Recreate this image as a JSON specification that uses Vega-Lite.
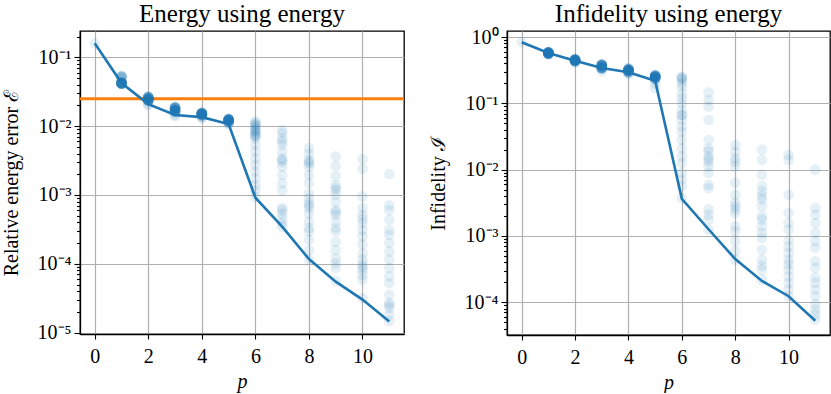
{
  "$schema": "https://vega.github.io/schema/vega-lite/v6.json",
  "padding": {"left": 0, "top": 0, "right": 0, "bottom": 0},
  "background": "white",
  "config": {
    "font": "Liberation Serif",
    "style": {"guide-label": {"font": "Liberation Serif"}, "guide-title": {"font": "Liberation Serif"}, "group-title": {"font": "Liberation Serif"}},
    "view": {"stroke": "black", "strokeWidth": 1.3},
    "axis": {
      "labelFont": "Liberation Serif", "titleFont": "Liberation Serif",
      "labelFontSize": 20, "titleFontSize": 20, "titleFontWeight": "normal",
      "labelColor": "black", "titleColor": "black", "tickColor": "black", "domainColor": "black",
      "domainWidth": 1.3, "tickWidth": 1.1,
      "gridColor": "#b0b0b0", "gridWidth": 1.2, "labelFlush": false, "labelOverlap": false
    },
    "title": {"font": "Liberation Serif", "fontSize": 25, "fontWeight": "normal", "color": "black", "frame": "group", "anchor": "middle"}
  },
  "spacing": 20,
  "datasets": {
    "E": [
      {"p":0,"v":0.16},
      {"p":1,"v":0.0537},{"p":1,"v":0.0525},{"p":1,"v":0.0525},{"p":1,"v":0.0513},{"p":1,"v":0.0501},{"p":1,"v":0.0437},{"p":1,"v":0.0427},{"p":1,"v":0.0427},{"p":1,"v":0.0427},{"p":1,"v":0.0422},{"p":1,"v":0.0422},{"p":1,"v":0.0417},{"p":1,"v":0.0417},{"p":1,"v":0.0417},{"p":1,"v":0.0412},{"p":1,"v":0.0407},{"p":1,"v":0.0427},{"p":1,"v":0.0417},{"p":1,"v":0.0422},{"p":1,"v":0.0417},
      {"p":1,"v":0.0422},{"p":1,"v":0.0422},{"p":1,"v":0.0422},{"p":1,"v":0.0422},{"p":1,"v":0.0422},{"p":1,"v":0.0422},{"p":1,"v":0.0422},{"p":1,"v":0.0422},{"p":1,"v":0.0525},{"p":1,"v":0.0525},
      {"p":2,"v":0.0269},{"p":2,"v":0.0263},{"p":2,"v":0.0263},{"p":2,"v":0.0263},{"p":2,"v":0.0257},{"p":2,"v":0.0263},{"p":2,"v":0.0251},{"p":2,"v":0.0245},{"p":2,"v":0.024},{"p":2,"v":0.024},{"p":2,"v":0.024},{"p":2,"v":0.0234},{"p":2,"v":0.024},{"p":2,"v":0.0234},{"p":2,"v":0.0245},{"p":2,"v":0.0251},{"p":2,"v":0.0229},{"p":2,"v":0.0204},{"p":2,"v":0.0209},{"p":2,"v":0.024},
      {"p":2,"v":0.0263},{"p":2,"v":0.0263},{"p":2,"v":0.0263},{"p":2,"v":0.0263},{"p":2,"v":0.024},{"p":2,"v":0.024},{"p":2,"v":0.024},{"p":2,"v":0.024},{"p":2,"v":0.0251},{"p":2,"v":0.0251},
      {"p":3,"v":0.0191},{"p":3,"v":0.0186},{"p":3,"v":0.0186},{"p":3,"v":0.0182},{"p":3,"v":0.0186},{"p":3,"v":0.0178},{"p":3,"v":0.0174},{"p":3,"v":0.017},{"p":3,"v":0.0166},{"p":3,"v":0.0166},{"p":3,"v":0.0166},{"p":3,"v":0.0162},{"p":3,"v":0.017},{"p":3,"v":0.0166},{"p":3,"v":0.0162},{"p":3,"v":0.0158},{"p":3,"v":0.0166},{"p":3,"v":0.0145},{"p":3,"v":0.0141},{"p":3,"v":0.0174},
      {"p":3,"v":0.0186},{"p":3,"v":0.0186},{"p":3,"v":0.0186},{"p":3,"v":0.0186},{"p":3,"v":0.0166},{"p":3,"v":0.0166},{"p":3,"v":0.0166},{"p":3,"v":0.0166},{"p":3,"v":0.0178},{"p":3,"v":0.0178},
      {"p":4,"v":0.0158},{"p":4,"v":0.0155},{"p":4,"v":0.0155},{"p":4,"v":0.0151},{"p":4,"v":0.0151},{"p":4,"v":0.0148},{"p":4,"v":0.0148},{"p":4,"v":0.0145},{"p":4,"v":0.0151},{"p":4,"v":0.0155},{"p":4,"v":0.0148},{"p":4,"v":0.0145},{"p":4,"v":0.0141},{"p":4,"v":0.0151},{"p":4,"v":0.0148},{"p":4,"v":0.0138},{"p":4,"v":0.0135},{"p":4,"v":0.0132},{"p":4,"v":0.0151},{"p":4,"v":0.0155},
      {"p":4,"v":0.0151},{"p":4,"v":0.0151},{"p":4,"v":0.0151},{"p":4,"v":0.0151},{"p":4,"v":0.0151},{"p":4,"v":0.0148},{"p":4,"v":0.0148},{"p":4,"v":0.0148},{"p":4,"v":0.0155},{"p":4,"v":0.0155},
      {"p":5,"v":0.0129},{"p":5,"v":0.0126},{"p":5,"v":0.0126},{"p":5,"v":0.0123},{"p":5,"v":0.0123},{"p":5,"v":0.012},{"p":5,"v":0.012},{"p":5,"v":0.0117},{"p":5,"v":0.0123},{"p":5,"v":0.0126},{"p":5,"v":0.012},{"p":5,"v":0.0117},{"p":5,"v":0.0115},{"p":5,"v":0.0112},{"p":5,"v":0.0123},{"p":5,"v":0.012},{"p":5,"v":0.011},{"p":5,"v":0.0107},{"p":5,"v":0.0126},{"p":5,"v":0.0117},
      {"p":5,"v":0.0123},{"p":5,"v":0.0123},{"p":5,"v":0.0123},{"p":5,"v":0.0123},{"p":5,"v":0.012},{"p":5,"v":0.012},{"p":5,"v":0.012},{"p":5,"v":0.012},{"p":5,"v":0.0126},{"p":5,"v":0.0126},
      {"p":6,"v":0.0117},{"p":6,"v":0.0112},{"p":6,"v":0.0105},{"p":6,"v":0.01},{"p":6,"v":0.00933},{"p":6,"v":0.00871},{"p":6,"v":0.00832},{"p":6,"v":0.00794},{"p":6,"v":0.00741},{"p":6,"v":0.00708},{"p":6,"v":0.00661},{"p":6,"v":0.00537},{"p":6,"v":0.00427},{"p":6,"v":0.00339},{"p":6,"v":0.00275},{"p":6,"v":0.00219},{"p":6,"v":0.00174},{"p":6,"v":0.00138},{"p":6,"v":0.00117},{"p":6,"v":0.000933},
      {"p":6,"v":0.0105},{"p":6,"v":0.00871},{"p":6,"v":0.00741},
      {"p":7,"v":0.00871},{"p":7,"v":0.00794},{"p":7,"v":0.00661},{"p":7,"v":0.00603},{"p":7,"v":0.00537},{"p":7,"v":0.00427},{"p":7,"v":0.00339},{"p":7,"v":0.00324},{"p":7,"v":0.00302},{"p":7,"v":0.00257},{"p":7,"v":0.00195},{"p":7,"v":0.00148},{"p":7,"v":0.00117},{"p":7,"v":0.000646},{"p":7,"v":0.000603},{"p":7,"v":0.000537},{"p":7,"v":0.000457},{"p":7,"v":0.000389},{"p":7,"v":0.000347},
      {"p":8,"v":0.00479},{"p":8,"v":0.00398},{"p":8,"v":0.00324},{"p":8,"v":0.00302},{"p":8,"v":0.00288},{"p":8,"v":0.00257},{"p":8,"v":0.00195},{"p":8,"v":0.00148},{"p":8,"v":0.00105},{"p":8,"v":0.000891},{"p":8,"v":0.000759},{"p":8,"v":0.000708},{"p":8,"v":0.000646},{"p":8,"v":0.000537},{"p":8,"v":0.000407},{"p":8,"v":0.000331},{"p":8,"v":0.000295},{"p":8,"v":0.000224},{"p":8,"v":0.000158},{"p":8,"v":0.000117},
      {"p":9,"v":0.00363},{"p":9,"v":0.00263},{"p":9,"v":0.00186},{"p":9,"v":0.00138},{"p":9,"v":0.00126},{"p":9,"v":0.00117},{"p":9,"v":0.001},{"p":9,"v":0.000794},{"p":9,"v":0.000603},{"p":9,"v":0.000562},{"p":9,"v":0.000513},{"p":9,"v":0.000407},{"p":9,"v":0.000331},{"p":9,"v":0.000295},{"p":9,"v":0.000209},{"p":9,"v":0.000158},{"p":9,"v":0.00012},{"p":9,"v":0.000102},{"p":9,"v":0.0000871},{"p":9,"v":0.0000562},
      {"p":10,"v":0.00331},{"p":10,"v":0.0024},{"p":10,"v":0.000955},{"p":10,"v":0.000646},{"p":10,"v":0.000513},{"p":10,"v":0.000447},{"p":10,"v":0.000389},{"p":10,"v":0.000309},{"p":10,"v":0.000251},{"p":10,"v":0.000191},{"p":10,"v":0.000141},{"p":10,"v":0.000115},{"p":10,"v":0.0000977},{"p":10,"v":0.0000891},{"p":10,"v":0.0000813},{"p":10,"v":0.0000692},{"p":10,"v":0.0000589},{"p":10,"v":0.0000316},
      {"p":11,"v":0.002},{"p":11,"v":0.000708},{"p":11,"v":0.000603},{"p":11,"v":0.000437},{"p":11,"v":0.000309},{"p":11,"v":0.000263},{"p":11,"v":0.0002},{"p":11,"v":0.000151},{"p":11,"v":0.000115},{"p":11,"v":0.0000871},{"p":11,"v":0.0000661},{"p":11,"v":0.0000525},{"p":11,"v":0.0000355},{"p":11,"v":0.0000269},{"p":11,"v":0.0000251},{"p":11,"v":0.0000229},{"p":11,"v":0.0000182},{"p":11,"v":0.0000148}
    ],
    "I": [
      {"p":0,"v":0.832},
      {"p":1,"v":0.603},{"p":1,"v":0.589},{"p":1,"v":0.589},{"p":1,"v":0.575},{"p":1,"v":0.575},{"p":1,"v":0.575},{"p":1,"v":0.575},{"p":1,"v":0.562},{"p":1,"v":0.562},{"p":1,"v":0.562},{"p":1,"v":0.55},{"p":1,"v":0.575},{"p":1,"v":0.589},{"p":1,"v":0.562},{"p":1,"v":0.575},{"p":1,"v":0.55},{"p":1,"v":0.575},{"p":1,"v":0.589},{"p":1,"v":0.562},{"p":1,"v":0.575},
      {"p":1,"v":0.575},{"p":1,"v":0.575},{"p":1,"v":0.575},{"p":1,"v":0.575},{"p":1,"v":0.575},{"p":1,"v":0.575},{"p":1,"v":0.562},{"p":1,"v":0.562},{"p":1,"v":0.589},{"p":1,"v":0.589},
      {"p":2,"v":0.468},{"p":2,"v":0.457},{"p":2,"v":0.457},{"p":2,"v":0.447},{"p":2,"v":0.447},{"p":2,"v":0.447},{"p":2,"v":0.447},{"p":2,"v":0.437},{"p":2,"v":0.437},{"p":2,"v":0.427},{"p":2,"v":0.457},{"p":2,"v":0.447},{"p":2,"v":0.437},{"p":2,"v":0.447},{"p":2,"v":0.457},{"p":2,"v":0.427},{"p":2,"v":0.407},{"p":2,"v":0.437},{"p":2,"v":0.447},{"p":2,"v":0.468},
      {"p":2,"v":0.447},{"p":2,"v":0.447},{"p":2,"v":0.447},{"p":2,"v":0.447},{"p":2,"v":0.447},{"p":2,"v":0.447},{"p":2,"v":0.457},{"p":2,"v":0.457},{"p":2,"v":0.437},{"p":2,"v":0.437},
      {"p":3,"v":0.389},{"p":3,"v":0.38},{"p":3,"v":0.38},{"p":3,"v":0.372},{"p":3,"v":0.363},{"p":3,"v":0.38},{"p":3,"v":0.372},{"p":3,"v":0.347},{"p":3,"v":0.339},{"p":3,"v":0.339},{"p":3,"v":0.347},{"p":3,"v":0.339},{"p":3,"v":0.38},{"p":3,"v":0.372},{"p":3,"v":0.339},{"p":3,"v":0.347},{"p":3,"v":0.302},{"p":3,"v":0.363},{"p":3,"v":0.339},{"p":3,"v":0.38},
      {"p":3,"v":0.38},{"p":3,"v":0.38},{"p":3,"v":0.38},{"p":3,"v":0.372},{"p":3,"v":0.372},{"p":3,"v":0.347},{"p":3,"v":0.347},{"p":3,"v":0.347},{"p":3,"v":0.339},{"p":3,"v":0.339},
      {"p":4,"v":0.339},{"p":4,"v":0.324},{"p":4,"v":0.324},{"p":4,"v":0.316},{"p":4,"v":0.316},{"p":4,"v":0.302},{"p":4,"v":0.302},{"p":4,"v":0.316},{"p":4,"v":0.324},{"p":4,"v":0.302},{"p":4,"v":0.288},{"p":4,"v":0.316},{"p":4,"v":0.302},{"p":4,"v":0.324},{"p":4,"v":0.288},{"p":4,"v":0.275},{"p":4,"v":0.316},{"p":4,"v":0.302},{"p":4,"v":0.339},{"p":4,"v":0.316},
      {"p":4,"v":0.316},{"p":4,"v":0.316},{"p":4,"v":0.316},{"p":4,"v":0.324},{"p":4,"v":0.324},{"p":4,"v":0.302},{"p":4,"v":0.302},{"p":4,"v":0.302},{"p":4,"v":0.316},{"p":4,"v":0.324},
      {"p":5,"v":0.269},{"p":5,"v":0.263},{"p":5,"v":0.257},{"p":5,"v":0.251},{"p":5,"v":0.245},{"p":5,"v":0.24},{"p":5,"v":0.263},{"p":5,"v":0.251},{"p":5,"v":0.245},{"p":5,"v":0.257},{"p":5,"v":0.251},{"p":5,"v":0.24},{"p":5,"v":0.263},{"p":5,"v":0.245},{"p":5,"v":0.251},{"p":5,"v":0.229},{"p":5,"v":0.229},{"p":5,"v":0.2},{"p":5,"v":0.17},{"p":5,"v":0.257},
      {"p":5,"v":0.251},{"p":5,"v":0.251},{"p":5,"v":0.251},{"p":5,"v":0.257},{"p":5,"v":0.257},{"p":5,"v":0.245},{"p":5,"v":0.245},{"p":5,"v":0.263},{"p":5,"v":0.24},{"p":5,"v":0.251},
      {"p":6,"v":0.251},{"p":6,"v":0.24},{"p":6,"v":0.224},{"p":6,"v":0.2},{"p":6,"v":0.178},{"p":6,"v":0.141},{"p":6,"v":0.119},{"p":6,"v":0.1},{"p":6,"v":0.0794},{"p":6,"v":0.0668},{"p":6,"v":0.0562},{"p":6,"v":0.0447},{"p":6,"v":0.0372},{"p":6,"v":0.0282},{"p":6,"v":0.0209},{"p":6,"v":0.0158},{"p":6,"v":0.0126},{"p":6,"v":0.00891},{"p":6,"v":0.00708},{"p":6,"v":0.00562},{"p":6,"v":0.00372},
      {"p":6,"v":0.245},{"p":6,"v":0.0668},
      {"p":7,"v":0.146},{"p":7,"v":0.112},{"p":7,"v":0.0891},{"p":7,"v":0.0562},{"p":7,"v":0.0282},{"p":7,"v":0.0209},{"p":7,"v":0.019},{"p":7,"v":0.0158},{"p":7,"v":0.0145},{"p":7,"v":0.0132},{"p":7,"v":0.0112},{"p":7,"v":0.00891},{"p":7,"v":0.00589},{"p":7,"v":0.00525},{"p":7,"v":0.00251},{"p":7,"v":0.00209},{"p":7,"v":0.00176},{"p":7,"v":0.00124},
      {"p":8,"v":0.0234},{"p":8,"v":0.0186},{"p":8,"v":0.0148},{"p":8,"v":0.0132},{"p":8,"v":0.0112},{"p":8,"v":0.00631},{"p":8,"v":0.00417},{"p":8,"v":0.00316},{"p":8,"v":0.00282},{"p":8,"v":0.00251},{"p":8,"v":0.00221},{"p":8,"v":0.0014},{"p":8,"v":0.00117},{"p":8,"v":0.000832},{"p":8,"v":0.000589},{"p":8,"v":0.000437},
      {"p":9,"v":0.02},{"p":9,"v":0.0141},{"p":9,"v":0.00832},{"p":9,"v":0.00562},{"p":9,"v":0.00468},{"p":9,"v":0.00398},{"p":9,"v":0.00355},{"p":9,"v":0.00279},{"p":9,"v":0.00197},{"p":9,"v":0.00176},{"p":9,"v":0.0014},{"p":9,"v":0.00112},{"p":9,"v":0.000933},{"p":9,"v":0.000617},{"p":9,"v":0.000437},{"p":9,"v":0.000355},{"p":9,"v":0.000309},{"p":9,"v":0.000219},
      {"p":10,"v":0.0166},{"p":10,"v":0.0141},{"p":10,"v":0.00417},{"p":10,"v":0.00221},{"p":10,"v":0.00157},{"p":10,"v":0.00124},{"p":10,"v":0.000871},{"p":10,"v":0.000692},{"p":10,"v":0.00055},{"p":10,"v":0.000437},{"p":10,"v":0.000372},{"p":10,"v":0.000309},{"p":10,"v":0.000245},{"p":10,"v":0.000195},{"p":10,"v":0.000155},{"p":10,"v":0.000123},
      {"p":11,"v":0.01},{"p":11,"v":0.00263},{"p":11,"v":0.00209},{"p":11,"v":0.00157},{"p":11,"v":0.00111},{"p":11,"v":0.000832},{"p":11,"v":0.000661},{"p":11,"v":0.000417},{"p":11,"v":0.000331},{"p":11,"v":0.000234},{"p":11,"v":0.000195},{"p":11,"v":0.000155},{"p":11,"v":0.000123},{"p":11,"v":0.0000933},{"p":11,"v":0.0000776},{"p":11,"v":0.0000661},{"p":11,"v":0.000055}
    ],
    "lines": [
      {"p":0,"E":0.16,"I":0.832},
      {"p":1,"E":0.0422,"I":0.575},
      {"p":2,"E":0.0209,"I":0.44},
      {"p":3,"E":0.0145,"I":0.34},
      {"p":4,"E":0.0135,"I":0.295},
      {"p":5,"E":0.0107,"I":0.219},
      {"p":6,"E":0.000912,"I":0.00363},
      {"p":7,"E":0.000347,"I":0.00126},
      {"p":8,"E":0.000117,"I":0.000447},
      {"p":9,"E":0.000055,"I":0.000209},
      {"p":10,"E":0.0000302,"I":0.000123},
      {"p":11,"E":0.0000145,"I":0.0000525}
    ]
  },
  "hconcat": [
    {
      "width": 324, "height": 303,
      "title": {"text": "Energy using energy", "offset": 0},
      "layer": [
        {
          "data": {"values": [{"thr": 0.025}]},
          "mark": {"type": "rule", "color": "#ff7f0e", "strokeWidth": 3},
          "encoding": {"y": {"field": "thr", "type": "quantitative", "scale": {"type": "log", "domain": [0.00000955, 0.241], "nice": false}}}
        },
        {
          "data": {"name": "E"},
          "mark": {"type": "circle", "color": "#1f77b4", "opacity": 0.11, "size": 115, "clip": true},
          "encoding": {
            "x": {"field": "p", "type": "quantitative", "scale": {"domain": [-0.55, 11.55], "nice": false, "zero": false},
              "axis": {"values": [0,2,4,6,8,10], "title": "p", "titleFontStyle": "italic", "labelFont": "Liberation Serif", "titleFont": "Liberation Serif", "tickSize": 5, "labelPadding": 7, "titlePadding": 5, "grid": true}},
            "y": {"field": "v", "type": "quantitative", "scale": {"type": "log", "domain": [0.00000955, 0.241], "nice": false},
              "axis": {
                "title": "Relative energy error ℰ",
                "labelFont": "Liberation Serif", "titleFont": "Liberation Serif",
                "values": [0.00001,0.00002,0.00003,0.00004,0.00005,0.00006,0.00007,0.00008,0.00009,0.0001,0.0002,0.0003,0.0004,0.0005,0.0006,0.0007,0.0008,0.0009,0.001,0.002,0.003,0.004,0.005,0.006,0.007,0.008,0.009,0.01,0.02,0.03,0.04,0.05,0.06,0.07,0.08,0.09,0.1,0.2],
                "labelExpr": "abs(log(datum.value)/LN10 - round(log(datum.value)/LN10)) < 0.001 ? '10' + ['⁰','⁻¹','⁻²','⁻³','⁻⁴','⁻⁵'][-round(log(datum.value)/LN10)] : ''",
                "tickSize": {"condition": {"test": "abs(log(datum.value)/LN10 - round(log(datum.value)/LN10)) < 0.001", "value": 6}, "value": 3.5},
                "gridOpacity": {"condition": {"test": "abs(log(datum.value)/LN10 - round(log(datum.value)/LN10)) < 0.001", "value": 1}, "value": 0},
                "labelPadding": 3, "minExtent": 54, "maxExtent": 54, "titlePadding": 5
              }}
          }
        },
        {
          "data": {"name": "lines"},
          "mark": {"type": "line", "color": "#1f77b4", "strokeWidth": 2.6},
          "encoding": {
            "x": {"field": "p", "type": "quantitative"},
            "y": {"field": "E", "type": "quantitative"}
          }
        }
      ]
    },
    {
      "width": 323, "height": 304,
      "title": {"text": "Infidelity using energy", "offset": 0},
      "layer": [
        {
          "data": {"name": "I"},
          "mark": {"type": "circle", "color": "#1f77b4", "opacity": 0.11, "size": 115, "clip": true},
          "encoding": {
            "x": {"field": "p", "type": "quantitative", "scale": {"domain": [-0.55, 11.55], "nice": false, "zero": false},
              "axis": {"values": [0,2,4,6,8,10], "title": "p", "titleFontStyle": "italic", "labelFont": "Liberation Serif", "titleFont": "Liberation Serif", "tickSize": 5, "labelPadding": 7, "titlePadding": 5, "grid": true}},
            "y": {"field": "v", "type": "quantitative", "scale": {"type": "log", "domain": [0.000032, 1.233], "nice": false},
              "axis": {
                "title": "Infidelity ℐ",
                "labelFont": "Liberation Serif", "titleFont": "Liberation Serif",
                "values": [0.00004,0.00005,0.00006,0.00007,0.00008,0.00009,0.0001,0.0002,0.0003,0.0004,0.0005,0.0006,0.0007,0.0008,0.0009,0.001,0.002,0.003,0.004,0.005,0.006,0.007,0.008,0.009,0.01,0.02,0.03,0.04,0.05,0.06,0.07,0.08,0.09,0.1,0.2,0.3,0.4,0.5,0.6,0.7,0.8,0.9,1],
                "labelExpr": "abs(log(datum.value)/LN10 - round(log(datum.value)/LN10)) < 0.001 ? '10' + ['⁰','⁻¹','⁻²','⁻³','⁻⁴','⁻⁵'][-round(log(datum.value)/LN10)] : ''",
                "tickSize": {"condition": {"test": "abs(log(datum.value)/LN10 - round(log(datum.value)/LN10)) < 0.001", "value": 6}, "value": 3.5},
                "gridOpacity": {"condition": {"test": "abs(log(datum.value)/LN10 - round(log(datum.value)/LN10)) < 0.001", "value": 1}, "value": 0},
                "labelPadding": 3, "minExtent": 54, "maxExtent": 54, "titlePadding": 5
              }}
          }
        },
        {
          "data": {"name": "lines"},
          "mark": {"type": "line", "color": "#1f77b4", "strokeWidth": 2.6},
          "encoding": {
            "x": {"field": "p", "type": "quantitative"},
            "y": {"field": "I", "type": "quantitative"}
          }
        }
      ]
    }
  ]
}
